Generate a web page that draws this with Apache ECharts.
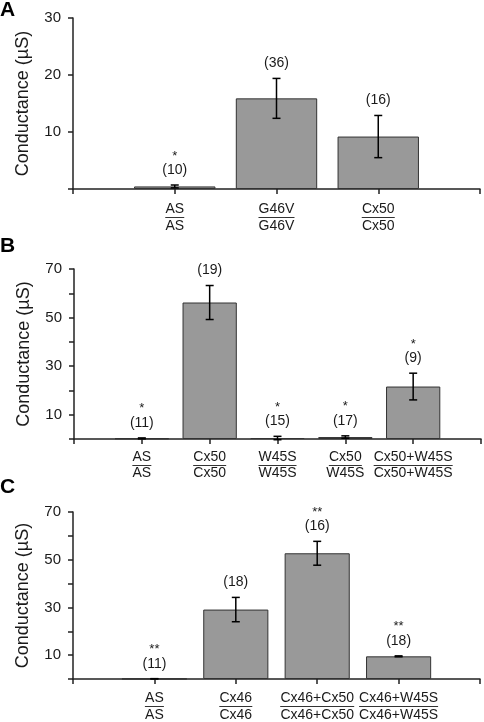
<!DOCTYPE html>
<html><head><meta charset="utf-8">
<script src="https://cdn.jsdelivr.net/npm/echarts@6/dist/echarts.min.js"></script>
<style>html,body{margin:0;padding:0;background:#fff}#c{width:484px;height:722px}</style>
</head><body><div id="c"></div>
<script>
// ---- Panel A data ----
const topLabelsA = ['AS', 'G46V', 'Cx50'];
const botLabelsA = ['AS', 'G46V', 'Cx50'];
const meanA = [0.45, 15.9, 9.2];
const errA = [0.25, 3.5, 3.7];
const nA = ['(10)', '(36)', '(16)'];
const starA = ['*', '', ''];
const yTicksA = [10, 20, 30];

// ---- Panel B data ----
const topLabelsB = ['AS', 'Cx50', 'W45S', 'Cx50', 'Cx50+W45S'];
const botLabelsB = ['AS', 'Cx50', 'W45S', 'W45S', 'Cx50+W45S'];
const meanB = [0.25, 56.2, 0.4, 0.8, 21.6];
const errB = [0.2, 7.0, 0.7, 0.5, 5.5];
const nB = ['(11)', '(19)', '(15)', '(17)', '(9)'];
const starB = ['*', '', '*', '*', '*'];
const yTicksB = [10, 30, 50, 70];

// ---- Panel C data ----
const topLabelsC = ['AS', 'Cx46', 'Cx46+Cx50', 'Cx46+W45S'];
const botLabelsC = ['AS', 'Cx46', 'Cx46+Cx50', 'Cx46+W45S'];
const meanC = [0.1, 29.1, 52.7, 9.5];
const errC = [0.05, 5.1, 5.0, 0.2];
const nC = ['(11)', '(18)', '(16)', '(18)'];
const starC = ['**', '', '**', '**'];
const yTicksC = [10, 30, 50, 70];

const FONT = '"Liberation Sans", Arial, Helvetica, sans-serif';
const TXT = '#1a1a1a';
const mctx = document.createElement('canvas').getContext('2d');
function textW(s, size) { mctx.font = size + 'px ' + FONT; return mctx.measureText(s).width; }

const panels = [
  { letter: 'A', tops: topLabelsA, bots: botLabelsA, mean: meanA, err: errA, n: nA, star: starA, ticks: yTicksA, max: 30,
    grid: { left: 73, top: 18, width: 407, height: 171 }, letterY: 11, lh: [14, 15], margin: 13 },
  { letter: 'B', tops: topLabelsB, bots: botLabelsB, mean: meanB, err: errB, n: nB, star: starB, ticks: yTicksB, max: 70,
    grid: { left: 74, top: 269, width: 407, height: 170 }, letterY: 247, lh: [13, 13], margin: 12 },
  { letter: 'C', tops: topLabelsC, bots: botLabelsC, mean: meanC, err: errC, n: nC, star: starC, ticks: yTicksC, max: 70,
    grid: { left: 73, top: 512, width: 407, height: 169 }, letterY: 488, lh: [14, 14], margin: 12 }
];

const LBL = 14;
const NFS = 14;
const option = { animation: false, grid: [], xAxis: [], yAxis: [], series: [], graphic: [] };

panels.forEach((p, gi) => {
  const cats = ['0'].concat(p.tops.map((_, i) => String(i + 1)), [String(p.tops.length + 1)]);
  const rich = {
    t: { fontSize: LBL, fontFamily: FONT, color: TXT, lineHeight: p.lh[0] },
    b: { fontSize: LBL, fontFamily: FONT, color: TXT, lineHeight: p.lh[1] }
  };
  p.tops.forEach((s, i) => {
    rich['u' + (i + 1)] = { width: Math.round(textW(s, LBL)), height: 1, lineHeight: 3, fontSize: 1, backgroundColor: '#333' };
  });
  option.grid.push(Object.assign({ containLabel: false }, p.grid));
  option.xAxis.push({
    type: 'category', gridIndex: gi, data: cats, boundaryGap: false,
    axisLine: { lineStyle: { color: '#222', width: 1.5 } },
    axisTick: { show: true, interval: 0, length: 5, lineStyle: { color: '#222', width: 1.5 } },
    axisLabel: {
      interval: 0, margin: p.margin, showMinLabel: true, showMaxLabel: true,
      formatter: (v) => {
        const i = parseInt(v, 10);
        if (i < 1 || i > p.tops.length) return '';
        return '{t|' + p.tops[i - 1] + '}\n{u' + i + '| }\n{b|' + p.bots[i - 1] + '}';
      },
      rich: rich
    },
    splitLine: { show: false }
  });
  option.yAxis.push({
    type: 'value', gridIndex: gi, min: 0, max: p.max, interval: 10,
    splitLine: { show: false },
    axisLine: { show: true, lineStyle: { color: '#222', width: 1.5 } },
    axisTick: { show: true, length: 5, lineStyle: { color: '#222', width: 1.5 } },
    axisLabel: { margin: 12, fontSize: 15, fontFamily: FONT, color: TXT,
      formatter: (v) => p.ticks.indexOf(v) >= 0 ? String(v) : '' },
    name: 'Conductance (\u00b5S)', nameLocation: 'middle', nameGap: 41,
    nameTextStyle: { fontSize: 18, fontFamily: FONT, color: TXT }
  });
  option.series.push({
    type: 'bar', xAxisIndex: gi, yAxisIndex: gi, barWidth: '80%',
    data: p.mean.map((m, i) => [i + 1, m]),
    itemStyle: { color: '#999999', borderColor: '#333333', borderWidth: 1 },
    silent: true
  });
  option.series.push({
    type: 'custom', xAxisIndex: gi, yAxisIndex: gi, clip: false, z: 5,
    data: p.mean.map((m, i) => [i + 1, m, p.err[i]]),
    renderItem: (params, api) => {
      const x = api.value(0), m = api.value(1), e = api.value(2);
      const pt = api.coord([x, m + e]);
      const pb = api.coord([x, m - e]);
      const cx = pt[0], yT = pt[1], yB = pb[1];
      const ls = { stroke: '#000', lineWidth: 1.5 };
      const idx = params.dataIndex;
      const children = [
        { type: 'line', shape: { x1: cx, y1: yT, x2: cx, y2: yB }, style: ls },
        { type: 'line', shape: { x1: cx - 4, y1: yT, x2: cx + 4, y2: yT }, style: ls },
        { type: 'line', shape: { x1: cx - 4, y1: yB, x2: cx + 4, y2: yB }, style: ls },
        { type: 'text', x: cx, y: yT - 15, style: { text: p.n[idx], fill: TXT, font: NFS + 'px ' + FONT, align: 'center', verticalAlign: 'middle' } }
      ];
      if (p.star[idx]) {
        children.push({ type: 'text', x: cx, y: yT - 29, style: { text: p.star[idx], fill: TXT, font: '13px ' + FONT, align: 'center', verticalAlign: 'middle' } });
      }
      return { type: 'group', children: children };
    }
  });
  option.graphic.push({ type: 'text', left: 0, top: p.letterY - 11,
    style: { text: p.letter, fill: '#000', font: 'bold 21px ' + FONT } });
});

const chart = echarts.init(document.getElementById('c'));
chart.setOption(option);
</script>
</body></html>
